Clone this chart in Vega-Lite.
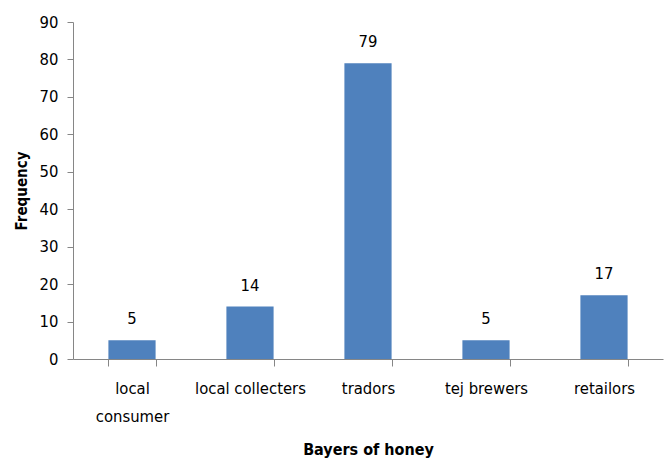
{
  "$schema": "https://vega.github.io/schema/vega-lite/v6.json",
  "autosize": "none",
  "width": 590,
  "height": 337,
  "padding": {"left": 73, "top": 22, "right": 2, "bottom": 102},
  "background": "white",
  "config": {
    "view": {"stroke": null},
    "font": "'DejaVu Sans Condensed', 'Open Sans', sans-serif",
    "axis": {"grid": false, "domainColor": "#868686", "tickColor": "#868686", "labelColor": "#000000", "titleColor": "#000000", "labelFont": "'DejaVu Sans Condensed', 'Open Sans', sans-serif", "titleFont": "'DejaVu Sans Condensed', 'Open Sans', sans-serif"}
  },
  "data": {
    "values": [
      {"buyer": "local consumer", "frequency": 5},
      {"buyer": "local collecters", "frequency": 14},
      {"buyer": "tradors", "frequency": 79},
      {"buyer": "tej brewers", "frequency": 5},
      {"buyer": "retailors", "frequency": 17}
    ]
  },
  "encoding": {
    "x": {
      "field": "buyer",
      "type": "nominal",
      "sort": null,
      "scale": {"paddingInner": 0.6, "paddingOuter": 0.3},
      "axis": {
        "title": "Bayers of honey",
        "titleFontSize": 16,
        "titleFontWeight": "bold",
        "titlePadding": 17,
        "labelAngle": 0,
        "labelFontSize": 16.5,
        "labelPadding": 22,
        "labelLineHeight": 28,
        "labelBaseline": "middle",
        "tickBand": "extent",
        "tickSize": 7,
        "labelExpr": "datum.label == 'local consumer' ? ['local', 'consumer'] : datum.label"
      }
    },
    "y": {
      "field": "frequency",
      "type": "quantitative",
      "scale": {"domain": [0, 90]},
      "axis": {
        "title": "Frequency",
        "titleFontSize": 15,
        "titleFontWeight": "bold",
        "titlePadding": 10,
        "values": [0, 10, 20, 30, 40, 50, 60, 70, 80, 90],
        "labelFontSize": 16.5,
        "labelPadding": 9,
        "tickSize": 6
      }
    }
  },
  "layer": [
    {"mark": {"type": "bar", "color": "#4F81BD"}},
    {
      "mark": {"type": "text", "baseline": "bottom", "dy": -13, "fontSize": 16.5, "color": "#000000", "font": "'DejaVu Sans Condensed', 'Open Sans', sans-serif"},
      "encoding": {"text": {"field": "frequency", "type": "quantitative"}}
    }
  ]
}
